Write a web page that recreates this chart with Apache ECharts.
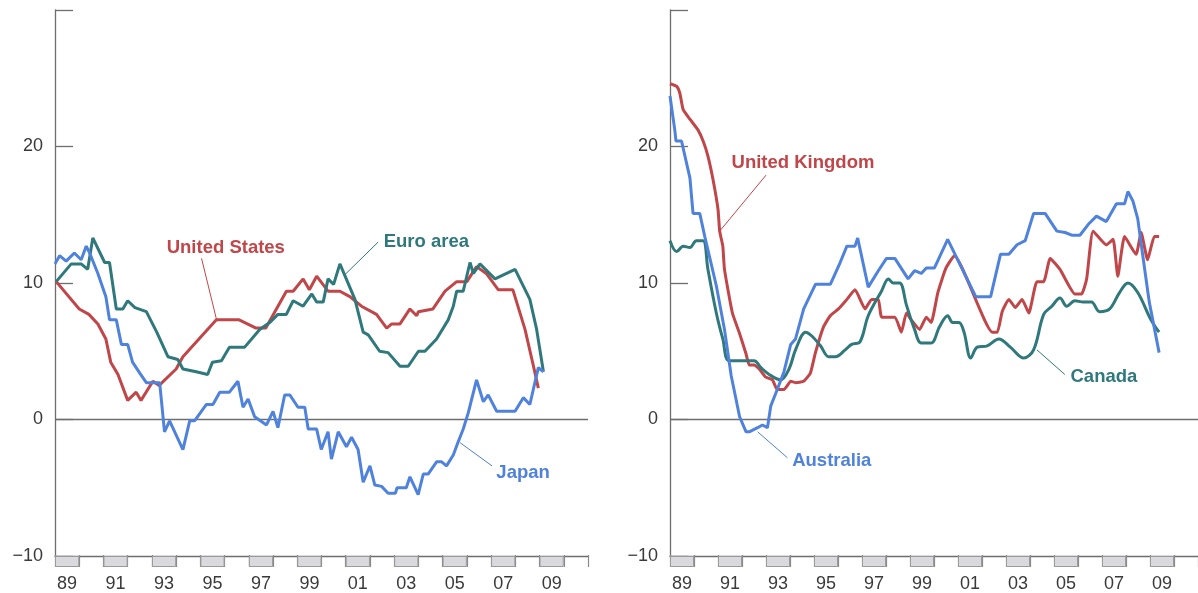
<!DOCTYPE html>
<html>
<head>
<meta charset="utf-8">
<script src="https://cdn.jsdelivr.net/npm/echarts@6/dist/echarts.min.js"></script>
<style>
  html, body { margin: 0; padding: 0; background: #fff; }
  #chart { width: 1198px; height: 593px; }
</style>
</head>
<body>
<div id="chart"></div>
<script>
// x = decimal year, y = per cent
const unitedStates = [[1989.05,10.1],[1990.0,8.1],[1990.4,7.7],[1990.77,7.0],[1991.1,5.9],[1991.3,4.2],[1991.6,3.3],[1992.0,1.4],[1992.35,2.0],[1992.55,1.4],[1993.04,2.8],[1993.3,2.5],[1994.0,3.7],[1994.28,4.6],[1995.66,7.3],[1996.6,7.3],[1997.3,6.7],[1997.7,6.7],[1998.55,9.4],[1998.83,9.4],[1999.24,10.3],[1999.5,9.5],[1999.8,10.5],[2000.27,9.4],[2000.76,9.4],[2001.17,9.0],[2001.65,8.3],[2002.27,7.7],[2002.69,6.7],[2002.9,7.0],[2003.24,7.0],[2003.65,8.1],[2003.93,7.6],[2004.0,7.9],[2004.6,8.1],[2005.1,9.4],[2005.58,10.1],[2006.0,10.1],[2006.4,11.2],[2006.8,10.7],[2007.3,9.5],[2007.9,9.5],[2008.4,6.6],[2008.75,3.9],[2008.95,2.3]];

const euroArea = [[1989.05,10.1],[1989.67,11.4],[1990.08,11.4],[1990.35,11.0],[1990.56,13.3],[1991.05,11.5],[1991.25,11.5],[1991.53,8.1],[1991.8,8.1],[1992.0,8.7],[1992.3,8.2],[1992.77,7.9],[1993.2,6.4],[1993.66,4.6],[1994.07,4.4],[1994.28,3.7],[1994.83,3.5],[1995.3,3.3],[1995.5,4.2],[1995.87,4.3],[1996.2,5.3],[1996.83,5.3],[1997.45,6.6],[1997.86,7.1],[1998.2,7.7],[1998.55,7.7],[1998.83,8.7],[1999.24,8.3],[1999.6,9.2],[1999.8,8.6],[2000.07,8.6],[2000.27,10.3],[2000.5,9.9],[2000.76,11.4],[2001.38,8.8],[2001.72,6.4],[2001.93,6.2],[2002.4,5.0],[2002.75,4.9],[2003.24,3.9],[2003.58,3.9],[2004.0,5.0],[2004.27,5.0],[2004.75,5.9],[2005.23,7.3],[2005.44,8.3],[2005.58,9.4],[2005.85,9.4],[2006.13,11.5],[2006.27,10.7],[2006.54,11.4],[2007.16,10.3],[2007.99,11.0],[2008.6,8.8],[2008.88,6.6],[2009.16,3.5]];

const japan = [[1989.0,11.4],[1989.19,12.0],[1989.46,11.6],[1989.8,12.2],[1990.08,11.7],[1990.29,12.7],[1990.43,12.2],[1990.77,10.7],[1991.1,9.0],[1991.25,7.3],[1991.53,7.3],[1991.74,5.5],[1992.0,5.5],[1992.2,4.2],[1992.5,3.4],[1992.77,2.7],[1993.32,2.7],[1993.52,-0.9],[1993.73,-0.1],[1994.28,-2.2],[1994.56,-0.1],[1994.76,-0.1],[1995.25,1.1],[1995.52,1.1],[1995.8,2.0],[1996.2,2.0],[1996.55,2.8],[1996.76,0.9],[1996.97,1.5],[1997.24,0.2],[1997.73,-0.4],[1998.0,0.6],[1998.2,-0.6],[1998.48,1.8],[1998.69,1.8],[1999.03,0.9],[1999.31,0.9],[1999.45,-0.7],[1999.8,-0.7],[1999.99,-2.2],[2000.27,-0.9],[2000.41,-2.9],[2000.69,-0.9],[2001.03,-2.0],[2001.24,-1.3],[2001.51,-2.2],[2001.72,-4.6],[2002.0,-3.4],[2002.2,-4.8],[2002.48,-4.9],[2002.75,-5.4],[2003.05,-5.4],[2003.12,-5.0],[2003.5,-5.0],[2003.65,-4.2],[2003.99,-5.5],[2004.2,-4.0],[2004.4,-4.0],[2004.75,-3.1],[2004.96,-3.1],[2005.16,-3.4],[2005.44,-2.6],[2005.65,-1.6],[2005.85,-0.7],[2006.06,0.5],[2006.4,2.9],[2006.68,1.3],[2006.88,1.8],[2007.23,0.6],[2007.99,0.6],[2008.33,1.6],[2008.6,1.1],[2008.95,3.8],[2009.16,3.5]];

const unitedKingdom = [[1989.0,24.6],[1989.28,24.4],[1989.41,23.9],[1989.55,22.7],[1989.83,22.0],[1990.17,21.2],[1990.38,20.4],[1990.58,19.3],[1990.79,17.6],[1991.0,15.4],[1991.07,13.8],[1991.2,12.7],[1991.27,11.0],[1991.6,7.8],[1991.88,6.4],[1992.17,4.8],[1992.3,4.0],[1992.5,4.0],[1992.72,3.7],[1992.99,3.1],[1993.27,2.9],[1993.47,2.2],[1993.75,2.2],[1994.03,2.8],[1994.23,2.7],[1994.57,2.8],[1994.85,3.4],[1995.06,4.9],[1995.4,6.8],[1995.68,7.6],[1996.02,8.1],[1996.37,8.8],[1996.71,9.5],[1997.13,8.1],[1997.4,8.8],[1997.68,8.8],[1997.82,7.5],[1998.37,7.5],[1998.64,6.4],[1998.85,7.8],[1999.05,7.3],[1999.4,6.6],[1999.68,7.5],[1999.88,7.1],[2000.16,9.3],[2000.5,11.1],[2000.85,12.0],[2002.43,6.4],[2002.64,6.4],[2002.84,7.9],[2003.12,8.8],[2003.39,8.2],[2003.67,8.8],[2003.95,7.8],[2004.29,10.1],[2004.57,10.1],[2004.84,11.8],[2005.25,11.0],[2005.87,9.2],[2006.15,9.2],[2006.36,10.3],[2006.63,13.8],[2007.18,12.8],[2007.46,13.2],[2007.66,10.5],[2007.94,13.4],[2008.42,12.1],[2008.63,13.7],[2008.9,11.7],[2009.18,13.4],[2009.38,13.4]];

const canada = [[1989.0,13.1],[1989.28,12.3],[1989.55,12.7],[1989.83,12.6],[1990.1,13.1],[1990.38,13.1],[1990.58,11.0],[1990.93,7.8],[1991.2,5.9],[1991.48,4.3],[1992.5,4.3],[1992.79,3.8],[1993.13,3.3],[1993.61,2.9],[1993.96,3.7],[1994.23,5.1],[1994.65,6.4],[1994.92,6.1],[1995.27,5.4],[1995.61,4.6],[1995.89,4.6],[1996.3,5.1],[1996.57,5.5],[1996.92,5.7],[1997.26,7.6],[1997.81,9.4],[1998.1,10.3],[1998.3,10.0],[1998.57,10.0],[1998.85,8.4],[1999.19,6.6],[1999.47,5.6],[1999.88,5.6],[2000.23,6.8],[2000.57,7.6],[2000.78,7.1],[2001.04,7.1],[2001.25,6.4],[2001.53,4.5],[2001.8,5.3],[2002.22,5.4],[2002.7,5.9],[2003.18,5.3],[2003.74,4.5],[2004.15,5.1],[2004.57,7.7],[2004.91,8.3],[2005.25,8.9],[2005.53,8.3],[2005.87,8.7],[2006.22,8.6],[2006.56,8.6],[2006.9,7.9],[2007.32,8.1],[2007.73,9.3],[2008.08,10.0],[2008.49,9.3],[2009.04,7.3],[2009.38,6.4]];

const australia = [[1989.0,23.7],[1989.2,21.2],[1989.25,20.4],[1989.48,20.4],[1989.83,17.7],[1989.96,15.1],[1990.24,15.1],[1990.45,13.4],[1990.93,9.8],[1991.27,6.6],[1991.55,3.2],[1991.9,0.2],[1992.17,-0.9],[1992.3,-0.9],[1992.65,-0.6],[1992.85,-0.4],[1993.06,-0.6],[1993.2,1.0],[1993.47,2.2],[1993.75,3.5],[1994.03,5.5],[1994.23,5.9],[1994.57,8.1],[1995.06,9.9],[1995.68,9.9],[1996.09,11.5],[1996.37,12.7],[1996.71,12.7],[1996.82,13.3],[1997.26,9.7],[1997.68,10.9],[1998.02,11.8],[1998.37,11.8],[1998.92,10.3],[1999.19,10.9],[1999.47,10.7],[1999.68,11.1],[2000.02,11.1],[2000.57,13.2],[2001.74,9.0],[2002.36,9.0],[2002.77,12.1],[2003.12,12.1],[2003.46,12.8],[2003.8,13.1],[2004.15,15.1],[2004.63,15.1],[2005.12,13.8],[2005.46,13.7],[2005.74,13.5],[2006.08,13.5],[2006.43,14.3],[2006.77,14.9],[2007.18,14.5],[2007.6,15.8],[2007.94,15.8],[2008.08,16.7],[2008.29,16.0],[2008.49,14.7],[2008.7,12.0],[2008.97,8.6],[2009.38,4.9]];

// year strip under each panel: odd years shaded
const stripYears = ['1989','1990','1991','1992','1993','1994','1995','1996','1997','1998','1999','2000','2001','2002','2003','2004','2005','2006','2007','2008','2009','2010'];
const shadedYears = [1,null,1,null,1,null,1,null,1,null,1,null,1,null,1,null,1,null,1,null,1,null];

const yTicks = [-10, 0, 10, 20, 30];

const RED = '#c04649';
const TEAL = '#2f787b';
const BLUE = '#4f82dc';

// label text position and leader line, in data coordinates
const panels = [
  {
    left: 55,
    lines: [
      { name: 'United States', data: unitedStates, color: RED, smooth: false,
        text: [1996.05, 12.6], leader: [[1995.05, 11.8], [1995.67, 7.3]] },
      { name: 'Euro area', data: euroArea, color: TEAL, smooth: false,
        text: [2004.33, 13.0], leader: [[2002.34, 13.0], [2000.96, 10.6]] },
      { name: 'Japan', data: japan, color: BLUE, smooth: false,
        text: [2008.32, -3.9], leader: [[2005.72, -1.7], [2007.04, -3.4]] }
    ]
  },
  {
    left: 670,
    lines: [
      { name: 'United Kingdom', data: unitedKingdom, color: RED, smooth: 0.15,
        text: [1994.54, 18.8], leader: [[1993.0, 17.9], [1991.07, 13.8]] },
      { name: 'Canada', data: canada, color: TEAL, smooth: 0.35,
        text: [2007.08, 3.1], leader: [[2004.29, 5.1], [2005.45, 3.3]] },
      { name: 'Australia', data: australia, color: BLUE, smooth: false,
        text: [1995.74, -3.0], leader: [[1992.65, -0.9], [1993.89, -2.8]] }
    ]
  }
];

const FONT = 'Liberation Sans, Arial, Helvetica, sans-serif';
const AXIS_COLOR = '#6e6e6e';
const TEXT_COLOR = '#3a3a3a';

const chart = echarts.init(document.getElementById('chart'));

const grid = [];
const xAxis = [];
const yAxis = [];
const series = [];

panels.forEach((p, i) => {
  // main plot
  grid.push({ left: p.left, top: 10, width: 533, height: 546 });
  // year strip
  grid.push({ left: p.left, top: 556, width: 533, height: 12 });
  const mainIdx = i * 2;
  const stripIdx = i * 2 + 1;

  xAxis.push({
    gridIndex: mainIdx,
    type: 'value',
    min: 1989,
    max: 2011,
    axisLine: { show: true, onZero: false, lineStyle: { color: AXIS_COLOR, width: 1.3 } },
    axisTick: { show: false },
    axisLabel: { show: false },
    splitLine: { show: false }
  });
  xAxis.push({
    gridIndex: stripIdx,
    type: 'category',
    data: stripYears,
    position: 'bottom',
    axisLine: { show: false },
    axisTick: { show: true, inside: true, length: 12, interval: 0, lineStyle: { color: '#8a8a8a', width: 1.2 } },
    axisLabel: {
      interval: 1,
      margin: 8,
      fontSize: 18,
      color: TEXT_COLOR,
      fontFamily: FONT,
      formatter: v => v.slice(2)
    }
  });

  yAxis.push({
    gridIndex: mainIdx,
    type: 'value',
    min: yTicks[0],
    max: yTicks[yTicks.length - 1],
    interval: 10,
    axisLine: { show: true, lineStyle: { color: AXIS_COLOR, width: 1.3 } },
    axisTick: { show: true, inside: true, length: 18, lineStyle: { color: AXIS_COLOR, width: 1.3 } },
    axisLabel: {
      fontSize: 18,
      color: TEXT_COLOR,
      fontFamily: FONT,
      margin: 12,
      formatter: v => (v === 30 ? '' : v < 0 ? '\u2212' + Math.abs(v) : String(v))
    },
    splitLine: { show: false }
  });
  yAxis.push({
    gridIndex: stripIdx,
    type: 'value',
    min: 0,
    max: 1,
    show: false
  });

  series.push({
    type: 'bar',
    xAxisIndex: stripIdx,
    yAxisIndex: stripIdx,
    data: shadedYears,
    barCategoryGap: '0%',
    silent: true,
    itemStyle: { color: '#d9d9de', borderColor: '#9a9a9a', borderWidth: 1 }
  });

  p.lines.forEach((s, j) => {
    const markLineData = [[
      { coord: s.leader[0] },
      { coord: s.leader[1] }
    ]];
    if (j === 0) {
      markLineData.push({ yAxis: 0, lineStyle: { color: AXIS_COLOR, width: 1.3, type: 'solid' } });
    }
    series.push({
      type: 'line',
      name: s.name,
      xAxisIndex: mainIdx,
      yAxisIndex: mainIdx,
      data: s.data,
      smooth: s.smooth,
      showSymbol: false,
      symbol: 'none',
      z: 3 + j,
      lineStyle: { color: s.color, width: 3 },
      itemStyle: { color: s.color },
      markLine: {
        silent: true,
        symbol: ['none', 'none'],
        label: { show: false },
        lineStyle: { color: s.color, width: 1, type: 'solid' },
        data: markLineData
      },
      markPoint: {
        silent: true,
        symbol: 'rect',
        symbolSize: 2,
        itemStyle: { color: 'rgba(255,255,255,0)' },
        label: {
          show: true,
          position: 'inside',
          formatter: s.name,
          fontSize: 18.5,
          fontWeight: 'bold',
          fontFamily: FONT,
          color: s.color
        },
        data: [{ name: s.name, coord: s.text, value: 1 }]
      }
    });
  });
});

chart.setOption({
  animation: false,
  backgroundColor: '#ffffff',
  grid,
  xAxis,
  yAxis,
  series
});
</script>
</body>
</html>
